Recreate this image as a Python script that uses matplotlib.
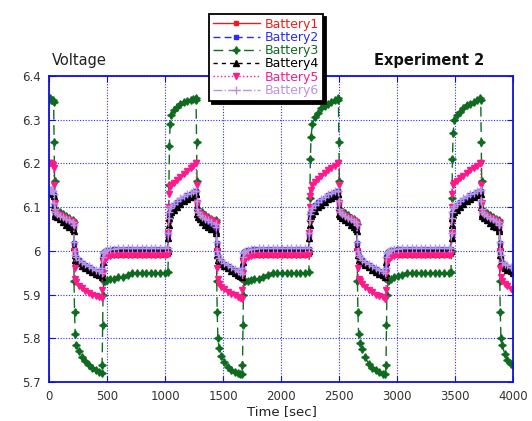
import matplotlib
matplotlib.use("Agg")
import matplotlib.pyplot as plt
from matplotlib.ticker import FuncFormatter

# sample times [s], shared by all six batteries
time_s = [
    0, 10, 20, 30, 36,
    40, 44, 48, 54, 70, 95, 120, 145, 170, 207,
    212, 216, 220, 226, 237, 257, 282, 312, 342, 372, 402, 433, 453,
    458, 462, 466, 472, 483, 503, 528, 558, 598, 638, 678, 718, 758, 798, 838, 878, 918, 958, 998, 1025,
    1030, 1034, 1038, 1044, 1055, 1075, 1100, 1130, 1160, 1190, 1220, 1245, 1263,
    1268, 1272, 1276, 1282, 1298, 1323, 1348, 1373, 1398, 1437,
    1442, 1446, 1450, 1456, 1467, 1487, 1512, 1542, 1572, 1602, 1632, 1648, 1663,
    1668, 1672, 1676, 1682, 1693, 1713, 1738, 1768, 1808, 1848, 1888, 1928, 1968, 2008, 2048, 2088, 2128, 2168, 2208, 2240,
    2245, 2249, 2253, 2259, 2270, 2290, 2315, 2345, 2375, 2405, 2435, 2465, 2490,
    2495, 2499, 2503, 2509, 2525, 2550, 2575, 2600, 2625, 2650,
    2655, 2659, 2663, 2669, 2680, 2700, 2725, 2755, 2785, 2815, 2845, 2875, 2900,
    2905, 2909, 2913, 2919, 2930, 2950, 2975, 3005, 3045, 3085, 3125, 3165, 3205, 3245, 3285, 3325, 3365, 3405, 3445, 3465,
    3470, 3474, 3478, 3484, 3495, 3515, 3540, 3570, 3600, 3630, 3660, 3690, 3717,
    3722, 3726, 3730, 3736, 3752, 3777, 3802, 3827, 3852, 3877,
    3882, 3886, 3890, 3896, 3907, 3927, 3952, 3982, 4000,
]

battery1 = [
    6.137, 6.137, 6.137, 6.135, 6.133,
    6.128, 6.105, 6.09, 6.084, 6.081, 6.076, 6.071, 6.066, 6.062, 6.058,
    6.052, 6.015, 5.995, 5.985, 5.98, 5.976, 5.97, 5.965, 5.96, 5.956, 5.952, 5.948, 5.945,
    5.955, 5.975, 5.985, 5.988, 5.99, 5.99, 5.99, 5.99, 5.99, 5.99, 5.99, 5.99, 5.99, 5.99, 5.99, 5.99, 5.99, 5.99, 5.99, 5.992,
    6.035, 6.068, 6.082, 6.09, 6.095, 6.1, 6.107, 6.113, 6.119, 6.124, 6.128, 6.131, 6.134,
    6.134, 6.108, 6.09, 6.083, 6.078, 6.072, 6.067, 6.062, 6.058, 6.054,
    6.048, 6.015, 5.995, 5.985, 5.98, 5.974, 5.968, 5.963, 5.958, 5.954, 5.95, 5.947, 5.944,
    5.955, 5.975, 5.985, 5.988, 5.99, 5.99, 5.99, 5.99, 5.99, 5.99, 5.99, 5.99, 5.99, 5.99, 5.99, 5.99, 5.99, 5.99, 5.99, 5.992,
    6.035, 6.068, 6.082, 6.09, 6.095, 6.1, 6.107, 6.113, 6.119, 6.124, 6.128, 6.131, 6.134,
    6.134, 6.108, 6.09, 6.084, 6.08, 6.075, 6.07, 6.066, 6.062, 6.058,
    6.052, 6.015, 5.995, 5.985, 5.98, 5.976, 5.97, 5.965, 5.96, 5.956, 5.952, 5.948, 5.945,
    5.955, 5.975, 5.985, 5.988, 5.99, 5.99, 5.99, 5.99, 5.99, 5.99, 5.99, 5.99, 5.99, 5.99, 5.99, 5.99, 5.99, 5.99, 5.99, 5.992,
    6.035, 6.068, 6.082, 6.09, 6.095, 6.1, 6.107, 6.113, 6.119, 6.124, 6.128, 6.131, 6.134,
    6.134, 6.108, 6.09, 6.084, 6.08, 6.075, 6.07, 6.066, 6.062, 6.058,
    6.052, 6.015, 5.995, 5.98, 5.97, 5.965, 5.961, 5.958, 5.955,
]

battery2 = [
    6.138, 6.138, 6.138, 6.137, 6.135,
    6.128, 6.106, 6.092, 6.086, 6.083, 6.078, 6.074, 6.07, 6.066, 6.062,
    6.056, 6.018, 5.997, 5.988, 5.983, 5.978, 5.973, 5.968, 5.963, 5.958, 5.955, 5.951, 5.948,
    5.96, 5.985, 5.995, 5.998, 6.0, 6.002, 6.003, 6.004, 6.005, 6.005, 6.005, 6.005, 6.005, 6.005, 6.005, 6.005, 6.005, 6.005, 6.005, 6.005,
    6.038, 6.072, 6.086, 6.094, 6.1, 6.105, 6.111, 6.117, 6.122, 6.127, 6.131, 6.134, 6.136,
    6.136, 6.112, 6.093, 6.086, 6.081, 6.076, 6.071, 6.067, 6.063, 6.059,
    6.053, 6.018, 5.997, 5.988, 5.982, 5.976, 5.97, 5.965, 5.96, 5.956, 5.952, 5.949, 5.946,
    5.96, 5.985, 5.995, 5.998, 6.0, 6.002, 6.003, 6.004, 6.005, 6.005, 6.005, 6.005, 6.005, 6.005, 6.005, 6.005, 6.005, 6.005, 6.005, 6.005,
    6.038, 6.072, 6.086, 6.094, 6.1, 6.105, 6.111, 6.117, 6.122, 6.127, 6.131, 6.134, 6.136,
    6.136, 6.112, 6.093, 6.086, 6.082, 6.078, 6.073, 6.069, 6.066, 6.062,
    6.056, 6.018, 5.997, 5.988, 5.983, 5.978, 5.973, 5.968, 5.963, 5.958, 5.955, 5.951, 5.948,
    5.96, 5.985, 5.995, 5.998, 6.0, 6.002, 6.003, 6.004, 6.005, 6.005, 6.005, 6.005, 6.005, 6.005, 6.005, 6.005, 6.005, 6.005, 6.005, 6.005,
    6.038, 6.072, 6.086, 6.094, 6.1, 6.105, 6.111, 6.117, 6.122, 6.127, 6.131, 6.134, 6.136,
    6.136, 6.112, 6.093, 6.086, 6.082, 6.078, 6.073, 6.069, 6.066, 6.062,
    6.056, 6.018, 5.997, 5.985, 5.973, 5.968, 5.964, 5.961, 5.958,
]

battery3 = [
    6.35, 6.35, 6.345, 6.345, 6.345,
    6.34, 6.25, 6.16, 6.095, 6.092, 6.09, 6.085, 6.08, 6.075, 6.07,
    6.065, 5.93, 5.86, 5.81, 5.785, 5.77, 5.757, 5.748, 5.74, 5.733, 5.727, 5.722, 5.72,
    5.74, 5.83, 5.9, 5.93, 5.932, 5.933, 5.935, 5.935, 5.94, 5.94, 5.945, 5.95, 5.95, 5.95, 5.95, 5.95, 5.95, 5.95, 5.95, 5.952,
    6.0, 6.15, 6.24, 6.29, 6.31, 6.322, 6.33, 6.336, 6.34, 6.343, 6.345, 6.347, 6.35,
    6.345, 6.25, 6.16, 6.095, 6.09, 6.088, 6.083, 6.078, 6.074, 6.07,
    6.065, 5.93, 5.86, 5.8, 5.777, 5.76, 5.745, 5.735, 5.728, 5.722, 5.72, 5.718, 5.718,
    5.74, 5.83, 5.9, 5.93, 5.932, 5.932, 5.933, 5.935, 5.935, 5.94, 5.945, 5.95, 5.95, 5.95, 5.95, 5.95, 5.95, 5.95, 5.95, 5.952,
    6.0, 6.12, 6.21, 6.26, 6.29, 6.306, 6.316, 6.326, 6.332, 6.337, 6.341, 6.345, 6.35,
    6.345, 6.25, 6.16, 6.095, 6.09, 6.086, 6.081, 6.076, 6.072, 6.068,
    6.062, 5.93, 5.86, 5.81, 5.79, 5.775, 5.757, 5.742, 5.733, 5.727, 5.722, 5.718, 5.718,
    5.74, 5.83, 5.9, 5.93, 5.933, 5.935, 5.94, 5.942, 5.945, 5.95, 5.95, 5.95, 5.95, 5.95, 5.95, 5.95, 5.95, 5.95, 5.95, 5.952,
    6.0, 6.12, 6.21, 6.27, 6.3, 6.31, 6.318, 6.326, 6.333, 6.337, 6.341, 6.345, 6.35,
    6.345, 6.25, 6.16, 6.095, 6.09, 6.087, 6.082, 6.078, 6.074, 6.07,
    6.065, 5.93, 5.86, 5.8, 5.785, 5.765, 5.75, 5.742, 5.74,
]

battery4 = [
    6.135, 6.135, 6.135, 6.133, 6.13,
    6.125, 6.1, 6.085, 6.08, 6.077, 6.072, 6.066, 6.06, 6.055, 6.05,
    6.045, 6.01, 5.99, 5.98, 5.976, 5.972, 5.966, 5.961, 5.956, 5.952, 5.948, 5.944, 5.94,
    5.95, 5.975, 5.99, 5.993, 5.995, 5.997, 5.998, 6.0, 6.0, 6.0, 6.0, 6.0, 6.0, 6.0, 6.0, 6.0, 6.0, 6.0, 6.0, 6.0,
    6.03, 6.06, 6.075, 6.082, 6.088, 6.093, 6.1, 6.107, 6.113, 6.118, 6.123, 6.127, 6.13,
    6.13, 6.1, 6.085, 6.078, 6.072, 6.066, 6.06, 6.055, 6.05, 6.046,
    6.04, 6.01, 5.99, 5.98, 5.975, 5.97, 5.965, 5.96, 5.955, 5.95, 5.945, 5.942, 5.94,
    5.95, 5.975, 5.99, 5.993, 5.995, 5.997, 5.998, 6.0, 6.0, 6.0, 6.0, 6.0, 6.0, 6.0, 6.0, 6.0, 6.0, 6.0, 6.0, 6.0,
    6.03, 6.06, 6.075, 6.08, 6.085, 6.092, 6.1, 6.106, 6.112, 6.118, 6.122, 6.126, 6.13,
    6.13, 6.1, 6.085, 6.08, 6.075, 6.07, 6.065, 6.06, 6.055, 6.05,
    6.045, 6.01, 5.99, 5.98, 5.976, 5.972, 5.967, 5.962, 5.957, 5.952, 5.948, 5.944, 5.94,
    5.95, 5.975, 5.99, 5.993, 5.995, 5.997, 5.998, 6.0, 6.0, 6.0, 6.0, 6.0, 6.0, 6.0, 6.0, 6.0, 6.0, 6.0, 6.0, 6.0,
    6.03, 6.06, 6.075, 6.082, 6.088, 6.094, 6.1, 6.107, 6.113, 6.118, 6.123, 6.127, 6.13,
    6.13, 6.1, 6.085, 6.08, 6.075, 6.07, 6.064, 6.058, 6.054, 6.05,
    6.045, 6.01, 5.99, 5.975, 5.965, 5.96, 5.956, 5.953, 5.95,
]

battery5 = [
    6.2, 6.2, 6.2, 6.198, 6.196,
    6.19, 6.15, 6.11, 6.09, 6.085, 6.082, 6.078, 6.074, 6.07, 6.066,
    6.06, 6.0, 5.96, 5.935, 5.928, 5.92, 5.914, 5.908, 5.903, 5.9, 5.897, 5.895, 5.892,
    5.91, 5.95, 5.975, 5.98, 5.982, 5.985, 5.988, 5.99, 5.99, 5.99, 5.99, 5.99, 5.99, 5.99, 5.99, 5.99, 5.99, 5.99, 5.99, 5.992,
    6.04, 6.1, 6.13, 6.145, 6.15, 6.156, 6.163, 6.17, 6.177, 6.183, 6.19, 6.195, 6.2,
    6.2, 6.15, 6.11, 6.09, 6.085, 6.082, 6.078, 6.074, 6.07, 6.066,
    6.06, 6.0, 5.96, 5.935, 5.925, 5.918, 5.912, 5.906, 5.902, 5.898, 5.894, 5.892, 5.89,
    5.91, 5.95, 5.975, 5.98, 5.982, 5.985, 5.988, 5.99, 5.99, 5.99, 5.99, 5.99, 5.99, 5.99, 5.99, 5.99, 5.99, 5.99, 5.99, 5.992,
    6.04, 6.1, 6.125, 6.14, 6.15, 6.157, 6.165, 6.172, 6.179, 6.185, 6.19, 6.195, 6.2,
    6.2, 6.15, 6.11, 6.09, 6.085, 6.08, 6.076, 6.072, 6.068, 6.065,
    6.06, 6.0, 5.96, 5.935, 5.93, 5.924, 5.917, 5.91, 5.905, 5.9, 5.897, 5.894, 5.89,
    5.91, 5.95, 5.975, 5.98, 5.982, 5.985, 5.988, 5.99, 5.99, 5.99, 5.99, 5.99, 5.99, 5.99, 5.99, 5.99, 5.99, 5.99, 5.99, 5.992,
    6.04, 6.1, 6.13, 6.15, 6.155, 6.16, 6.166, 6.172, 6.178, 6.184, 6.19, 6.195, 6.2,
    6.2, 6.15, 6.11, 6.09, 6.085, 6.08, 6.076, 6.072, 6.068, 6.065,
    6.06, 6.0, 5.96, 5.94, 5.93, 5.925, 5.92, 5.913, 5.91,
]

battery6 = [
    6.14, 6.14, 6.14, 6.14, 6.138,
    6.13, 6.11, 6.095, 6.088, 6.085, 6.08, 6.077, 6.073, 6.07, 6.066,
    6.06, 6.02, 6.0, 5.99, 5.985, 5.98, 5.975, 5.97, 5.965, 5.96, 5.957, 5.953, 5.95,
    5.96, 5.985, 5.995, 5.998, 6.0, 6.002, 6.004, 6.005, 6.006, 6.006, 6.006, 6.006, 6.006, 6.006, 6.006, 6.006, 6.006, 6.006, 6.006, 6.006,
    6.04, 6.075, 6.09, 6.097, 6.103, 6.108, 6.114, 6.12, 6.125, 6.129, 6.133, 6.136, 6.138,
    6.138, 6.115, 6.095, 6.088, 6.083, 6.078, 6.074, 6.07, 6.066, 6.062,
    6.055, 6.02, 6.0, 5.99, 5.984, 5.978, 5.972, 5.967, 5.962, 5.958, 5.954, 5.951, 5.948,
    5.96, 5.985, 5.995, 5.998, 6.0, 6.002, 6.004, 6.005, 6.006, 6.006, 6.006, 6.006, 6.006, 6.006, 6.006, 6.006, 6.006, 6.006, 6.006, 6.006,
    6.04, 6.07, 6.085, 6.092, 6.098, 6.105, 6.112, 6.118, 6.124, 6.129, 6.133, 6.136, 6.138,
    6.138, 6.115, 6.095, 6.088, 6.084, 6.08, 6.076, 6.072, 6.069, 6.066,
    6.06, 6.02, 6.0, 5.99, 5.985, 5.98, 5.975, 5.97, 5.965, 5.96, 5.957, 5.953, 5.95,
    5.96, 5.985, 5.995, 5.998, 6.0, 6.002, 6.004, 6.005, 6.006, 6.006, 6.006, 6.006, 6.006, 6.006, 6.006, 6.006, 6.006, 6.006, 6.006, 6.006,
    6.04, 6.075, 6.09, 6.097, 6.103, 6.108, 6.114, 6.12, 6.125, 6.129, 6.133, 6.136, 6.14,
    6.14, 6.115, 6.095, 6.088, 6.084, 6.08, 6.076, 6.072, 6.069, 6.066,
    6.06, 6.02, 6.0, 5.99, 5.975, 5.97, 5.967, 5.963, 5.96,
]

labels = ["Battery1", "Battery2", "Battery3", "Battery4", "Battery5", "Battery6"]
xticks = [0, 500, 1000, 1500, 2000, 2500, 3000, 3500, 4000]
yticks = [5.7, 5.8, 5.9, 6.0, 6.1, 6.2, 6.3, 6.4]

series = [battery1, battery2, battery3, battery4, battery5, battery6]
colors = ["#f01c1c", "#2a2aff", "#0f6b1f", "#000000", "#ff1a8c", "#b894e0"]
styles = [
    dict(ls="-", marker="s", ms=2.2),
    dict(ls=(0, (5, 3)), marker="s", ms=2.2),
    dict(ls=(0, (7, 4)), marker=(4, 1, 0), ms=5.5),
    dict(ls=(0, (3, 3)), marker="^", ms=4.5),
    dict(ls=":", marker="v", ms=5),
    dict(ls="-.", marker="+", ms=5.5, mew=1.0),
]

plt.rcParams["font.family"] = "DejaVu Sans"

fig = plt.figure(figsize=(5.32, 4.21), dpi=100)
ax = fig.add_axes([0.0921, 0.0926, 0.8722, 0.7268])

for v, lab, c, st in zip(series, labels, colors, styles):
    ax.plot(time_s, v, color=c, lw=1.0, label=lab, **st)

ax.set_xlim(0, 4000)
ax.set_ylim(5.7, 6.4)
ax.set_xticks(xticks)
ax.set_yticks(yticks)
ax.yaxis.set_major_formatter(FuncFormatter(lambda v, p: f"{v:g}"))
ax.grid(True, color="#2b2bff", ls=(0, (1, 1.5)), lw=0.8)
for sp in ax.spines.values():
    sp.set_color("#1010e0")
    sp.set_linewidth(1.3)
ax.tick_params(direction="in", length=4, color="#1010e0", top=True, right=True,
               labelsize=8.5, labelcolor="#333333", pad=6)

fig.text(282 / 532, 1 - 412 / 421, "Time [sec]", fontsize=9.5, color="#222222",
         ha="center", va="center")
fig.text(52 / 532, 1 - 60 / 421, "Voltage", fontsize=10.5, color="#222222",
         ha="left", va="center")
fig.text(374 / 532, 1 - 60 / 421, "Experiment 2", fontsize=10.5, fontweight="bold",
         color="#111111", ha="left", va="center")

leg = ax.legend(loc="upper center", bbox_to_anchor=(266 / 532, 1 - 14 / 421),
                bbox_transform=fig.transFigure, borderaxespad=0, fontsize=9,
                numpoints=1, handlelength=3.8, handletextpad=0.4, labelspacing=0.02,
                borderpad=0.3, fancybox=False, framealpha=1, edgecolor="black",
                shadow={"color": "black", "alpha": 1})
leg.get_frame().set_linewidth(1.3)
for txt, c in zip(leg.get_texts(), colors):
    txt.set_color(c)

fig.savefig("out.png", dpi=100)
